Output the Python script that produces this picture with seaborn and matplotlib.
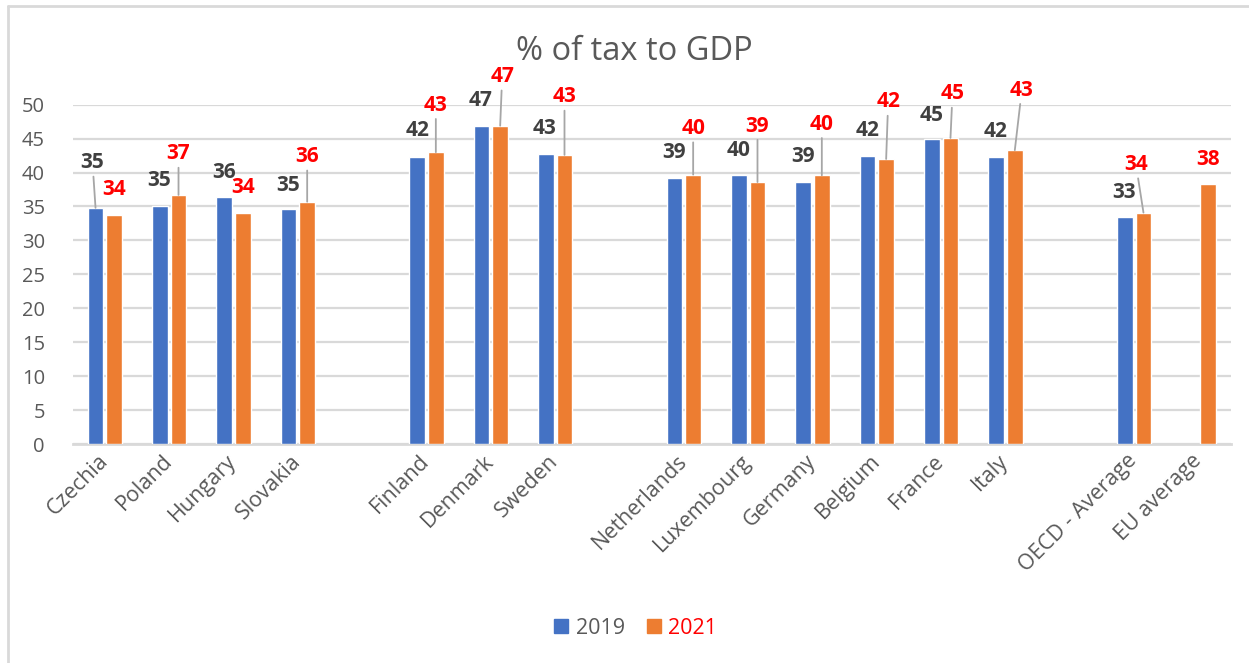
import numpy as np
import pandas as pd
import matplotlib
matplotlib.use("Agg")
import matplotlib.pyplot as plt
import seaborn as sns

# Category slots; blank entries separate the country groups
categories = ["Czechia", "Poland", "Hungary", "Slovakia", " ",
              "Finland", "Denmark", "Sweden", "  ",
              "Netherlands", "Luxembourg", "Germany", "Belgium", "France", "Italy", "   ",
              "OECD - Average", "EU average"]

countries = ["Czechia", "Poland", "Hungary", "Slovakia",
             "Finland", "Denmark", "Sweden",
             "Netherlands", "Luxembourg", "Germany", "Belgium", "France", "Italy",
             "OECD - Average", "EU average"]

tax_2019 = [34.8, 35.1, 36.4, 34.6,
            42.3, 46.9, 42.8,
            39.2, 39.6, 38.6, 42.4, 44.9, 42.3,
            33.4, np.nan]

tax_2021 = [33.8, 36.7, 34.0, 35.7,
            43.0, 46.9, 42.6,
            39.7, 38.6, 39.6, 42.0, 45.1, 43.3,
            34.1, 38.3]

years = ["2019", "2021"]

# Label offsets (pixels) from the bar top: (dx, dy, leader line)
offsets_2019 = [(-3, 45, True), (-1, 25, False), (0, 24, False), (0, 24, False),
                (0, 26, False), (-1, 25, False), (-1, 25, False),
                (0, 25, False), (0, 25, False), (0, 26, False), (0, 26, False), (0, 24, False), (-1, 25, False),
                (-1, 25, False), None]
offsets_2021 = [(0, 25, False), (0, 41, True), (0, 26, False), (0, 45, True),
                (0, 47, True), (2, 49, True), (0, 58, True),
                (0, 46, True), (0, 56, True), (0, 51, True), (2, 57, True), (2, 44, True), (7, 60, True),
                (-7.5, 48, True), (0, 25, False)]

df = pd.DataFrame({
    "country": countries * 2,
    "year": [years[0]] * len(countries) + [years[1]] * len(countries),
    "value": tax_2019 + tax_2021,
})

sns.set_theme(style="white")
plt.rcParams["font.family"] = ["Open Sans", "DejaVu Sans"]

BLUE = "#4472C4"
ORANGE = "#ED7D31"
GREY_TXT = "#595959"
GRID = "#D9D9D9"

fig = plt.figure(figsize=(12.49, 6.63), dpi=100)
ax = fig.add_axes([0.0582, 0.3303, 0.9271, 0.5118])

sns.barplot(data=df.dropna(), x="country", y="value", hue="year",
            order=categories, hue_order=years,
            palette=[BLUE, ORANGE], width=0.58, gap=0.15,
            saturation=1, ax=ax, legend=False, zorder=3)

ax.set_ylim(0, 50)
ax.set_xlim(-0.5, len(categories) - 0.5)
ax.set_yticks(range(0, 51, 5))
ax.yaxis.grid(True, color=GRID, linewidth=1.6, zorder=0)
ax.set_axisbelow(True)
for side in ["top", "right", "left"]:
    ax.spines[side].set_visible(False)
ax.spines["bottom"].set_color(GRID)
ax.spines["bottom"].set_linewidth(2)
ax.set_xlabel("")
ax.set_ylabel("")
ax.tick_params(axis="y", length=0, pad=20, labelsize=14.5, labelcolor=GREY_TXT)
ax.tick_params(axis="x", length=0, pad=10, labelsize=15.5, labelcolor=GREY_TXT)
ax.set_xticks(range(len(categories)))
ax.set_xticklabels([c.strip() for c in categories], rotation=45, ha="right",
                   rotation_mode="anchor", va="center")

# Value labels with leader lines
slot = {c: i for i, c in enumerate(categories)}
shift = 0.145
for vals, offs, sgn, color in [(tax_2019, offsets_2019, -1, "#404040"),
                               (tax_2021, offsets_2021, 1, "#FF0000")]:
    for c, v, o in zip(countries, vals, offs):
        if np.isnan(v) or o is None:
            continue
        dx, dy, line = o
        xb = slot[c] + sgn * shift
        props = None
        if line:
            props = dict(arrowstyle="-", color="#A6A6A6", lw=1.3, shrinkA=0, shrinkB=0)
        ax.annotate(f"{v:.0f}", xy=(xb, v), xytext=(dx, dy), textcoords="offset pixels",
                    ha="center", va="center", fontsize=15, fontweight="bold",
                    color=color, arrowprops=props, zorder=5)

fig.text(0.5076, 1 - 51 / 663, "% of tax to GDP", ha="center", va="center",
         fontsize=23.5, color=GREY_TXT)

# Legend
handles = [plt.Rectangle((0, 0), 1, 1, color=BLUE), plt.Rectangle((0, 0), 1, 1, color=ORANGE)]
leg = fig.legend(handles, years, loc="center", bbox_to_anchor=(0.509, 1 - 628 / 663),
                 ncol=2, frameon=False, fontsize=15.5, handlelength=0.65, handleheight=0.65,
                 handletextpad=0.35, columnspacing=1.0)
leg.get_texts()[0].set_color(GREY_TXT)
leg.get_texts()[1].set_color("#FF0000")

# Chart border
fig.add_artist(plt.Line2D([8 / 1249, 1], [1 - 6 / 663, 1 - 6 / 663], color=GRID, lw=2,
                          transform=fig.transFigure))
fig.add_artist(plt.Line2D([8 / 1249, 8 / 1249], [0, 1 - 6 / 663], color=GRID, lw=2,
                          transform=fig.transFigure))

fig.savefig("out.png", dpi=100)
